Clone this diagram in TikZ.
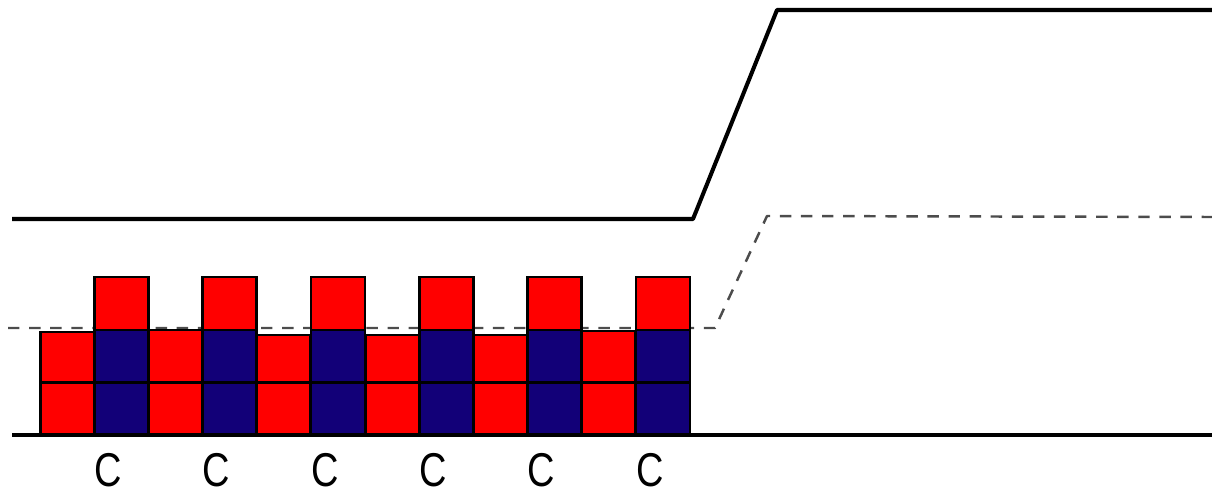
\documentclass[tikz,border=0pt]{standalone}
\usepackage{fontspec}
\setsansfont{Liberation Sans}
\usetikzlibrary{calc}
\definecolor{cellred}{RGB}{255,0,0}
\definecolor{cellblue}{RGB}{18,0,120}
\tikzstyle{cellnode} = [draw=black, line width=1.6pt, minimum width=1.08cm, minimum height=1.06cm, inner sep=0pt]
\tikzstyle{colorRed} = [fill=cellred]
\tikzstyle{colorBlue} = [fill=cellblue]
\tikzstyle{wallline} = [line width=2.3pt, line join=round]
\tikzstyle{levelline} = [line width=1.4pt, dash pattern=on 6.5pt off 5.5pt, line join=round]
\tikzstyle{clabel} = [inner sep=0pt, xscale=0.8, font=\fontsize{27}{29}\selectfont\sffamily]

\begin{document}
\begin{tikzpicture}[x=0.02cm, y=-0.02cm]
\useasboundingbox (0,0) rectangle (1212,496);

% upper wall and the dashed level
\coordinate (wall_l) at (12,219);
\coordinate (wall_k1) at (693,219);
\coordinate (wall_k2) at (777,10);
\coordinate (wall_r) at (1212,10);
\coordinate (lvl_l) at (8,328);
\coordinate (lvl_k1) at (715,328);
\coordinate (lvl_k2) at (767,216);
\coordinate (lvl_r) at (1212,217);
\coordinate (floor_l) at (12,435);
\coordinate (floor_r) at (1212,435);
\draw[wallline] (wall_l) -- (wall_k1) -- (wall_k2) -- (wall_r);
\draw[levelline, black!70] (lvl_l) -- (lvl_k1) -- (lvl_k2) -- (lvl_r);

% stacked cells: middle row first, bottom row over it
\foreach \i/\sag in {0/2,2/0,4/5,6/5,8/5,10/1} {
    \node[cellnode, colorRed, minimum height=1.06cm-\sag*0.02cm] (cell_mid_\i) at (67.1+54.17*\i,356.5+\sag/2) {};
}
\foreach \i in {1,3,5,7,9,11} {
    \node[cellnode, colorBlue] (cell_mid_\i) at (67.1+54.17*\i,356.5) {};
    \node[cellnode, colorRed] (cell_top_\i) at (67.1+54.17*\i,303.5) {};
    \node[clabel] (label_\i) at ($(cell_mid_\i)+(-13,114)$) {C};
}
\foreach \i in {0,...,11} {
    \pgfmathtruncatemacro\odd{mod(\i,2)}
    \ifnum\odd=0
        \node[cellnode, colorRed] (cell_bot_\i) at (67.1+54.17*\i,409) {};
    \else
        \node[cellnode, colorBlue] (cell_bot_\i) at (67.1+54.17*\i,409) {};
    \fi
}

\draw[wallline] (floor_l) -- (floor_r);
\end{tikzpicture}
\end{document}
